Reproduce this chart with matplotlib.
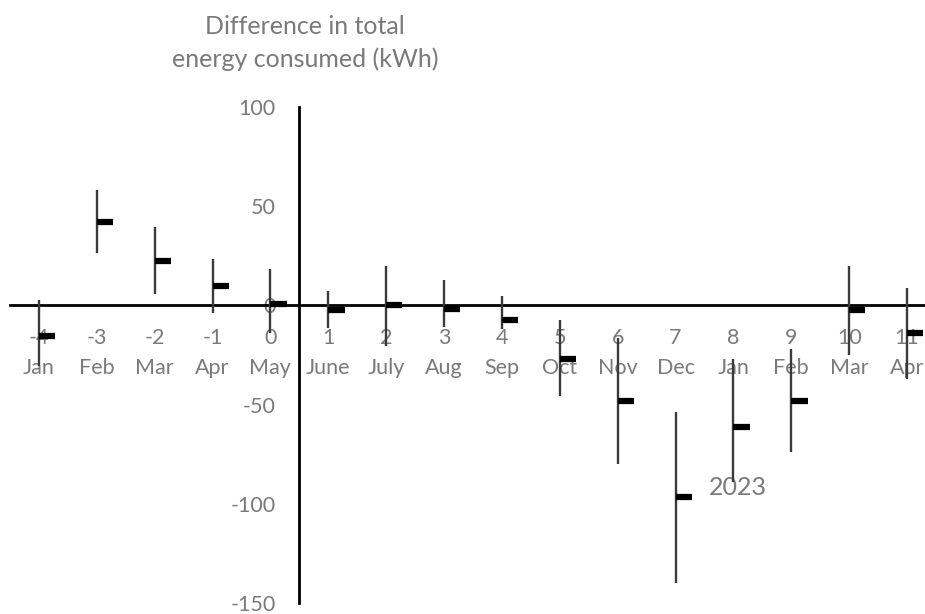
import matplotlib.pyplot as plt

months = ['Jan', 'Feb', 'Mar', 'Apr', 'May', 'June', 'July', 'Aug', 'Sep',
          'Oct', 'Nov', 'Dec', 'Jan', 'Feb', 'Mar', 'Apr']
offsets = [-4, -3, -2, -1, 0, 1, 2, 3, 4, 5, 6, 7, 8, 9, 10, 11]
highs = [2.7, 58, 39.3, 23.5, 18.1, 7.2, 20.1, 12.7, 4.7, -7.4,
         -16.3, -53.6, -27.1, -22.1, 20.1, 8.9]
lows = [-30.7, 26.5, 5.5, -3.7, -13.7, -11.2, -20.4, -11, -12, -45.6,
        -79.9, -139.7, -89.1, -73.7, -25.1, -37.2]
closes = [-15.4, 41.9, 22.6, 9.9, 0.5, -2.5, 0, -1.7, -7.4, -26.8,
          -48.1, -96.7, -61.5, -48.1, -2.3, -14.1]
yticks = [-150, -100, -50, 0, 50, 100]

FONT = 'Lato'
GREY = '#7a7a7a'

fig = plt.figure(figsize=(9.25, 6.14), dpi=100)
ax = fig.add_axes([10 / 925, 11 / 614, 915 / 925, 496 / 614])
ax.set_xlim(-4.5, 11.31)
ax.set_ylim(-150, 100)

# high-low lines with a close tick to the right
ax.vlines(offsets, lows, highs, color='#3a3a3a', lw=1.7, zorder=3)
ax.hlines(closes, offsets, [o + 0.28 for o in offsets], color='black',
          lw=4.5, capstyle='butt', zorder=4)

for side in ['top', 'right']:
    ax.spines[side].set_visible(False)
ax.spines['left'].set_position(('data', 0.5))
ax.spines['bottom'].set_position(('data', 0))
for side in ['left', 'bottom']:
    ax.spines[side].set_linewidth(2)
    ax.spines[side].set_color('black')
    ax.spines[side].set_zorder(2)

ax.set_xticks([])
ax.set_yticks(yticks)
ax.set_yticklabels([str(v) for v in yticks])
ax.tick_params(axis='y', length=0, pad=17, labelsize=15.5, labelcolor=GREY)
for lab in ax.get_yticklabels():
    lab.set_fontfamily(FONT)

for o, m in zip(offsets, months):
    ax.annotate(str(o), xy=(o, 0), xytext=(0, -33), textcoords='offset pixels',
                ha='center', va='center', fontsize=15.5, color=GREY,
                family=FONT, zorder=1)
    ax.annotate(m, xy=(o, 0), xytext=(0, -63), textcoords='offset pixels',
                ha='center', va='center', fontsize=15.5, color=GREY,
                family=FONT, zorder=1)

ax.text(8.07, -92, '2023', ha='center', va='center', fontsize=18,
        color=GREY, family=FONT, zorder=1)

fig.text(305 / 925, 1 - 43 / 614, 'Difference in total\nenergy consumed (kWh)',
         ha='center', va='center', fontsize=18, color=GREY, family=FONT,
         linespacing=1.45)

fig.savefig('out.png', dpi=100)
